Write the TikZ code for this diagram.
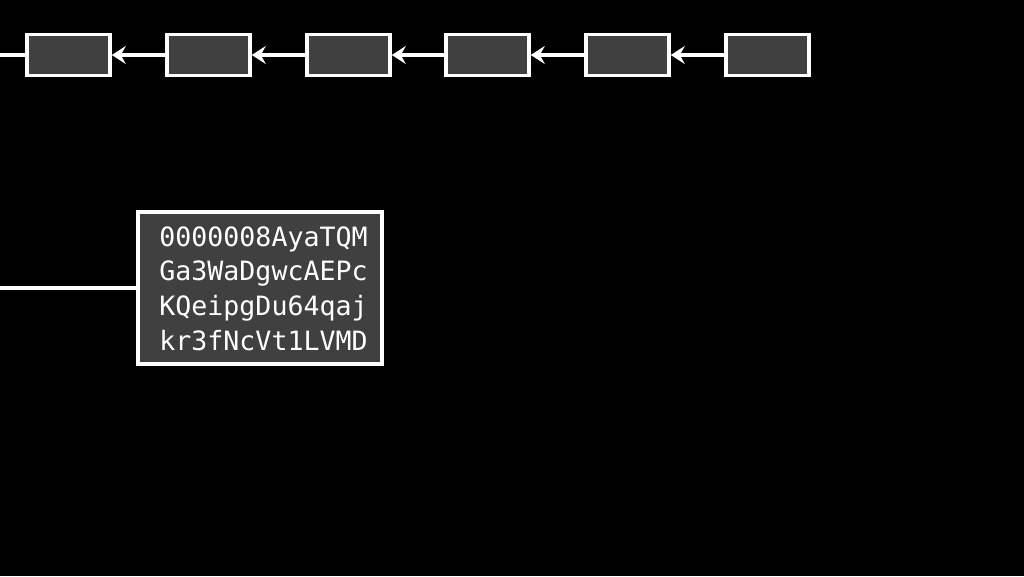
\documentclass[tikz,border=0pt]{standalone}
\usepackage{fontspec}
\setmonofont{DejaVu Sans Mono}
\usetikzlibrary{arrows.meta}
\definecolor{boxfill}{HTML}{404040}
\begin{document}
\begin{tikzpicture}[x=1pt,y=-1pt,
  blk/.style={draw=white,fill=boxfill,line width=3.6pt,minimum width=83pt,minimum height=41pt,inner sep=0pt},
  link/.style={draw=white,line width=3.6pt,-{Stealth[length=14pt,width=18pt,inset=5pt]}},
  plain/.style={draw=white,line width=3.6pt}]
\useasboundingbox[fill=black] (0,0) rectangle (1024,576);
\foreach \i/\x in {1/68.5,2/208.5,3/348.5,4/487.5,5/627.5,6/767.5}
  \node[blk] (b\i) at (\x,55) {};
\coordinate (l1) at (0,55);
\draw[plain] (l1) -- (b1.west);
\foreach \i/\j in {2/1,3/2,4/3,5/4,6/5}
  \draw[link] (b\i.west) -- (b\j.east);
\node[blk,minimum width=244pt,minimum height=152pt] (big) at (260,288) {};
\node[text=white,font=\ttfamily\fontsize{26.6}{34.7}\selectfont,align=left,inner sep=0pt] (bigtext) at (263.5,288.5)
  {0000008AyaTQM\\Ga3WaDgwcAEPc\\KQeipgDu64qaj\\kr3fNcVt1LVMD};
\coordinate (l2) at (0,288);
\draw[plain] (l2) -- (big.west);
\end{tikzpicture}
\end{document}
